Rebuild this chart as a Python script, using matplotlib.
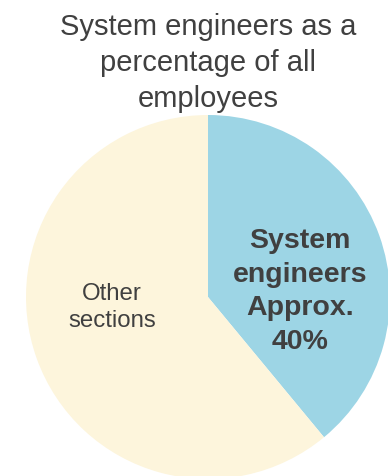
import matplotlib
matplotlib.use("Agg")
import matplotlib.pyplot as plt

categories = ["System engineers", "Other sections"]
values = [39, 61]
colors = ["#9dd5e5", "#fdf5dc"]
title = "System engineers as a\npercentage of all\nemployees"
label_blue = "System\nengineers\nApprox.\n40%"
label_other = "Other\nsections"

plt.rcParams['font.family'] = ['Liberation Sans', 'DejaVu Sans']
W, H = 388, 476
fig = plt.figure(figsize=(W/100, H/100), dpi=100)
cx, cy, r = 208, 297, 182
ax = fig.add_axes([(cx - r)/W, (H - cy - r)/H, 2*r/W, 2*r/H])
ax.pie(values, colors=colors, startangle=90, counterclock=False,
       wedgeprops=dict(linewidth=0))
ax.set_xlim(-1, 1)
ax.set_ylim(-1, 1)
ax.set_aspect('equal')
ax.axis('off')
for p in ax.patches:
    p.set_clip_on(False)

ax.text(0.505, 0.03, label_blue, ha='center', va='center', fontsize=20.5,
        fontweight='bold', color='#404040', linespacing=1.38)
ax.text(-0.527, -0.06, label_other, ha='center', va='center', fontsize=17.3,
        color='#404040', linespacing=1.3)

fig.text(cx/W, 1 - 13/H, title, ha='center', va='top', fontsize=21,
         color='#404040', linespacing=1.36)

fig.savefig("out.png", dpi=100)
